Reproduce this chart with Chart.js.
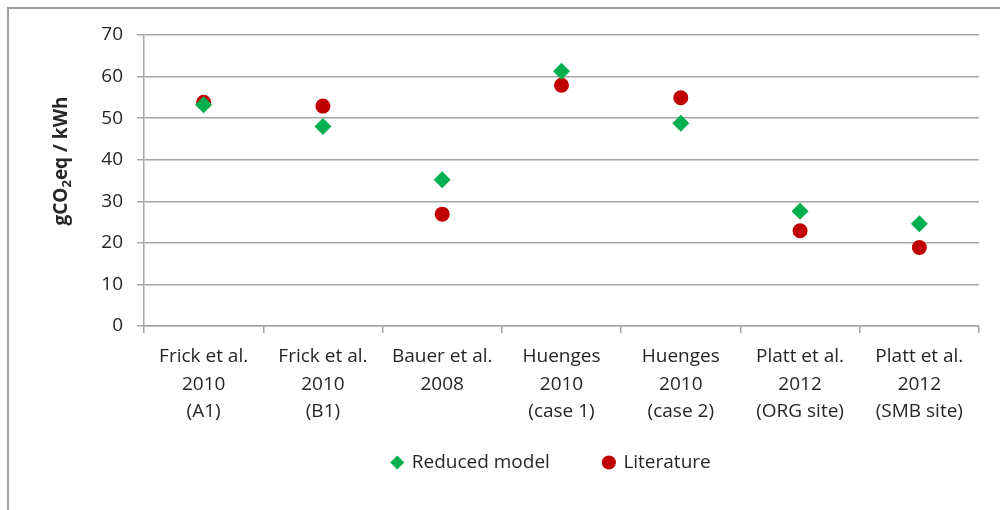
<!DOCTYPE html>
<html><head><meta charset="utf-8">
<script src="https://cdn.jsdelivr.net/npm/chart.js@4"></script>
<style>html,body{margin:0;padding:0;background:#fff;overflow:hidden}#wrap{width:1000px;height:510px;position:relative}</style>
</head><body><div id="wrap"><canvas id="c" width="1000" height="510"></canvas></div>
<script>
const categories = [
  ["Frick et al.", "2010", "(A1)"],
  ["Frick et al.", "2010", "(B1)"],
  ["Bauer et al.", "2008"],
  ["Huenges", "2010", "(case 1)"],
  ["Huenges", "2010", "(case 2)"],
  ["Platt et al.", "2012", "(ORG site)"],
  ["Platt et al.", "2012", "(SMB site)"]
];
const reducedModel = [53.2, 48.0, 35.2, 61.3, 48.8, 27.6, 24.6];
const literature = [53.8, 52.9, 26.9, 57.9, 54.9, 22.9, 18.9];
const yMin = 0, yMax = 70, yStep = 10;
const yTitleParts = ["gCO", "2", "eq / kWh"];
const seriesNames = ["Reduced model", "Literature"];

const FONT = "'Open Sans'";
const FS = 19;
const TEXT = "#262626";
const GRID = "#a6a6a6";
const LEGEND_DX = -10;
const LEGEND_DY = -27;

const framePlugin = {
  id: "frame",
  beforeDraw(chart) {
    const ctx = chart.ctx;
    ctx.save();
    ctx.strokeStyle = "#a0a0a0";
    ctx.lineWidth = 2;
    ctx.beginPath();
    ctx.moveTo(8, 520); ctx.lineTo(8, 8); ctx.lineTo(1010, 8);
    ctx.stroke();
    ctx.restore();
  },
  afterDraw(chart) {
    const ctx = chart.ctx;
    ctx.save();
    ctx.translate(62, 161);
    ctx.rotate(-Math.PI / 2);
    ctx.fillStyle = TEXT;
    ctx.textBaseline = "middle";
    const big = "bold " + FS + "px " + FONT, small = "bold 13px " + FONT;
    ctx.font = big; const w0 = ctx.measureText(yTitleParts[0]).width;
    ctx.font = small; const w1 = ctx.measureText(yTitleParts[1]).width;
    ctx.font = big; const w2 = ctx.measureText(yTitleParts[2]).width;
    let x = -(w0 + w1 + w2) / 2;
    ctx.textAlign = "left";
    ctx.font = big; ctx.fillText(yTitleParts[0], x, 0); x += w0;
    ctx.font = small; ctx.fillText(yTitleParts[1], x, 5); x += w1;
    ctx.font = big; ctx.fillText(yTitleParts[2], x, 0);
    ctx.restore();
  },
  afterLayout(chart) {
    const lg = chart.legend;
    if (lg) { lg.left += LEGEND_DX; lg.right += LEGEND_DX; lg.top += LEGEND_DY; lg.bottom += LEGEND_DY; }
  }
};

new Chart(document.getElementById("c"), {
  type: "line",
  data: {
    labels: categories,
    datasets: [
      { label: seriesNames[0], data: reducedModel, showLine: false, pointStyle: "rectRot",
        pointRadius: 8.5, pointHoverRadius: 8.5, backgroundColor: "#00b050", borderColor: "#00b050", borderWidth: 0 },
      { label: seriesNames[1], data: literature, showLine: false, pointStyle: "circle",
        pointRadius: 7.5, pointHoverRadius: 7.5, backgroundColor: "#c00000", borderColor: "#c00000", borderWidth: 0 }
    ]
  },
  options: {
    responsive: false, animation: false, devicePixelRatio: 1,
    layout: { padding: { left: 0, right: 21, top: 35, bottom: 1 } },
    plugins: {
      tooltip: { enabled: false },
      legend: {
        position: "bottom", fullSize: false,
        labels: { usePointStyle: true, boxWidth: 10, boxHeight: 10, padding: 54,
          color: TEXT, font: { family: FONT, size: FS } }
      }
    },
    scales: {
      x: {
        type: "category", offset: true,
        grid: { offset: true, drawOnChartArea: false, color: GRID, tickLength: 7, lineWidth: 1.5 },
        border: { color: GRID, width: 1.5 },
        ticks: { color: TEXT, font: { family: FONT, size: FS, lineHeight: 1.45 }, padding: 10,
          maxRotation: 0, autoSkip: false },
        afterFit(s) { s.height = 100; }
      },
      y: {
        min: yMin, max: yMax,
        ticks: { stepSize: yStep, color: TEXT, font: { family: FONT, size: FS }, padding: 14 },
        grid: { color: GRID, tickLength: 7, lineWidth: 1.5 },
        border: { color: GRID, width: 1.5 },
        afterFit(s) { s.width = 144; }
      }
    }
  },
  plugins: [framePlugin]
});
</script></body></html>
